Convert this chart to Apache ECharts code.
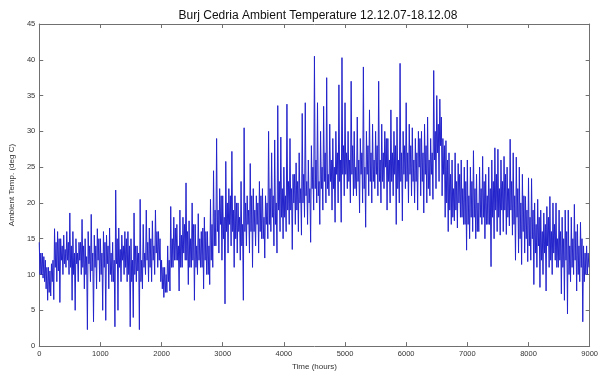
<!DOCTYPE html>
<html><head><meta charset="utf-8">
<script src="https://cdn.jsdelivr.net/npm/echarts@6/dist/echarts.min.js"></script>
<style>html,body{margin:0;padding:0;background:#fff}#c{width:601px;height:376px}</style>
</head><body><div id="c"></div>
<script>
// Time step between envelope readings (hours)
const binHours = 50;
// Upper spike readings per 50-hour bin (deg C)
const hiVals = [
14.5,13,12,11,11.5,16.4,16,15,15.5,16,
18.6,16,15,14.5,17.7,15,16,18.4,15.5,16.4,
15,16,15.5,16.5,14.5,21.8,16.5,15.5,16,16,
15,18.6,14,20.5,17,19,16.5,17.5,19,16,
12,11,14,19.5,18,17,19,18,22.8,17.5,
20,17,18.5,16,18,16,20.5,24.5,29,22,
21,25.8,22,27.2,21,20,23,30.5,21,25.5,
22,21,23,22,21,30,27,28.8,33.6,29.2,
25,33.8,29,24,25.6,27,32.5,34,26,28,
40.5,34,30,33.5,37.5,31,29,30,36.5,40.3,
34,30,37,30,32,29,39,30,33,31,
30,37,31,30,29,33,30,32,39.5,30,
34,31,30.5,29,30,30,31,32,29,38.5,
35,34.5,29,28.7,27,26,27,25.5,26,25,
26,25,27.3,24,25,26.5,24,25,26,27.7,
27.5,26,26.5,25,28.9,27,26.4,25,24,20.9,
23.5,23.4,20,20.5,19,18.6,19.5,20.9,20,20,
19,18,19,19,18,19.8,17,17.3,14,14
];
// Lower spike readings per 50-hour bin (deg C)
const loVals = [
10,9,6.4,7,6.5,9,6.1,10,11,10,
6.4,5,9,10,8,2.3,9,3.4,8,9,
5,3.6,8,9,2.7,5,9,10,9,2.7,
4,9,2.3,8,10,9,9,10,11,9,
6.8,7.5,7.7,11,12,7.7,11,12,8.6,11,
6.4,10,11,8,10,8.6,11,14,13,12,
5.9,13,14,11,13,12,6.4,14,13,11,
14,13,15,12.3,15,16,14,13,16,15,
16,17,13.5,17,16,15.5,18,17,14.5,19,
20,17,19,20,21,19,17.3,20,17.3,21,
22,20,21,21,18.6,20,16.6,21,20,22,
21,20,22,19,20,21,17,20,17.5,22,
20,21,20,19,21,18.6,20,21,20.5,22,
23,21,18,16,17,17.5,16.5,18,17,13.4,
15,16,15,16,17,15,17,11.1,15,16,
15.5,16,15.6,16.8,15.5,12,13,11.4,13,11.8,
12,8.6,11,8.2,10,7.7,11,10,12,11,
7.3,6.4,4.5,9,10,7.7,9,3.4,10,11
];
// Typical top of the dense band per 50-hour bin (deg C)
const bandHi = [
13,12.5,11,10.5,12,14.5,15,14,13.5,14.5,
14,13,13,14.5,14,12.5,14,13,14,15,
13,14.5,14,13,12,15,13.5,14,15,14,
12,14,13,12,13,14.5,15,14,16,15,
11,10,12,15,16.5,14,15.5,17,16,15,
17,14,15,16.5,16,14,17,19,19,21,
18,20,21,19,20,18,17,20,19,21,
19,20,21,18,20,22,21,20,23,22,
21,23,22,24,23,22,24,23,22,25,
26,23,25,27,24,26,25,27,26,28,
27,26,28,25,26,27,25,28,27,26,
28,26,27,29,26,27,28,26,27,28,
27,28,26,27,29,27,28,26,27,30,
31,32,28,26,24,22,23,24,22,23,
21,23,22,20,22,23,21,22,23,24,
22,23,24,22,23,21,22,20,21,19,
18,19,17,18,16,17,18,16,17,15,
16,15,16,14,15,16,14,15,13,13
];
// Typical bottom of the dense band per 50-hour bin (deg C)
const bandLo = [
10,9.5,8,7.5,9,11,10.5,12,11.5,12,
11,10,11.5,12,11,10,11.5,10.5,11,12,
10,11,11.5,10,9,11.5,11,12,11,10,
9,10,10.5,9,11,12,11,12,13,12,
8,7.5,9,11,12,12,11,13,12,11,
12,11,12,11,12,10,12,14,16,17,
15,16,17,16,15,16,14,16,17,16,
16,17,16,15,17,17,18,17,19,18,
18,19,19,20,19,20,20,21,20,22,
22,21,22,23,22,23,22,24,23,24,
24,23,24,22,23,24,22,24,23,23,
24,23,23,25,23,23,24,22,23,24,
23,24,23,23,25,23,24,22,24,26,
27,28,24,20,19,18,19,20,18,17,
17,18,18,16,18,18,17,17,18,19,
18,19,19,18,19,17,18,15,16,15,
14,15,13,14,12,13,14,12,13,11,
12,11,12,10,11,12,10,11,9,10
];
const xTicks = [0,1000,2000,3000,4000,5000,6000,7000,8000,9000];
const yTicks = [0,5,10,15,20,25,30,35,40,45];

const data = [];
for (let i = 0; i < hiVals.length; i++) {
  data.push([i * binHours, hiVals[i]]);
  data.push([i * binHours + binHours / 4, bandLo[i]]);
  data.push([i * binHours + binHours / 2, bandHi[i]]);
  data.push([i * binHours + binHours * 3 / 4, loVals[i]]);
}

const axisCol = '#707070';
const lblStyle = {fontFamily:'Arial, "Liberation Sans", sans-serif', fontSize:7.5, color:'#333'};
const nameStyle = {fontFamily:'Arial, "Liberation Sans", sans-serif', fontSize:8, color:'#333'};
const plain = v => String(v);
function boxAxis(extra) {
  return Object.assign({
    axisLine:{show:true, onZero:false, lineStyle:{color:axisCol}},
    axisTick:{show:true, inside:true, length:4, lineStyle:{color:axisCol}},
    splitLine:{show:false}
  }, extra);
}
const chart = echarts.init(document.getElementById('c'), null, {renderer:'canvas'});
chart.setOption({
  animation:false,
  backgroundColor:'#fff',
  title:{text:'Burj Cedria Ambient Temperature 12.12.07-18.12.08', left:313, textAlign:'center', top:5,
    textStyle:{fontFamily:'Arial, "Liberation Sans", sans-serif', fontSize:12, fontWeight:'normal', color:'#111'}},
  grid:{left:35, right:9, top:24, bottom:23, containLabel:false},
  xAxis:[
    boxAxis({type:'value', min:xTicks[0], max:xTicks[xTicks.length-1], interval:1000, position:'bottom',
     name:'Time (hours)', nameLocation:'middle', nameGap:15, nameTextStyle:nameStyle,
     axisLabel:Object.assign({margin:4, formatter:plain}, lblStyle)}),
    boxAxis({type:'value', min:xTicks[0], max:xTicks[xTicks.length-1], interval:1000, position:'top',
     axisLabel:{show:false}})
  ],
  yAxis:[
    boxAxis({type:'value', min:yTicks[0], max:yTicks[yTicks.length-1], interval:5, position:'left',
     name:'Ambient Temp. (deg C)', nameLocation:'middle', nameGap:14, nameRotate:90, nameTextStyle:nameStyle,
     axisLabel:Object.assign({margin:4, formatter:plain}, lblStyle)}),
    boxAxis({type:'value', min:yTicks[0], max:yTicks[yTicks.length-1], interval:5, position:'right',
     axisLabel:{show:false}})
  ],
  series:[
    {type:'line', xAxisIndex:0, yAxisIndex:0, data:data, showSymbol:false, symbol:'none',
     lineStyle:{color:'#2323cc', width:1}, silent:true},
    {type:'line', xAxisIndex:1, yAxisIndex:1, data:[], silent:true}
  ]
});
</script></body></html>
